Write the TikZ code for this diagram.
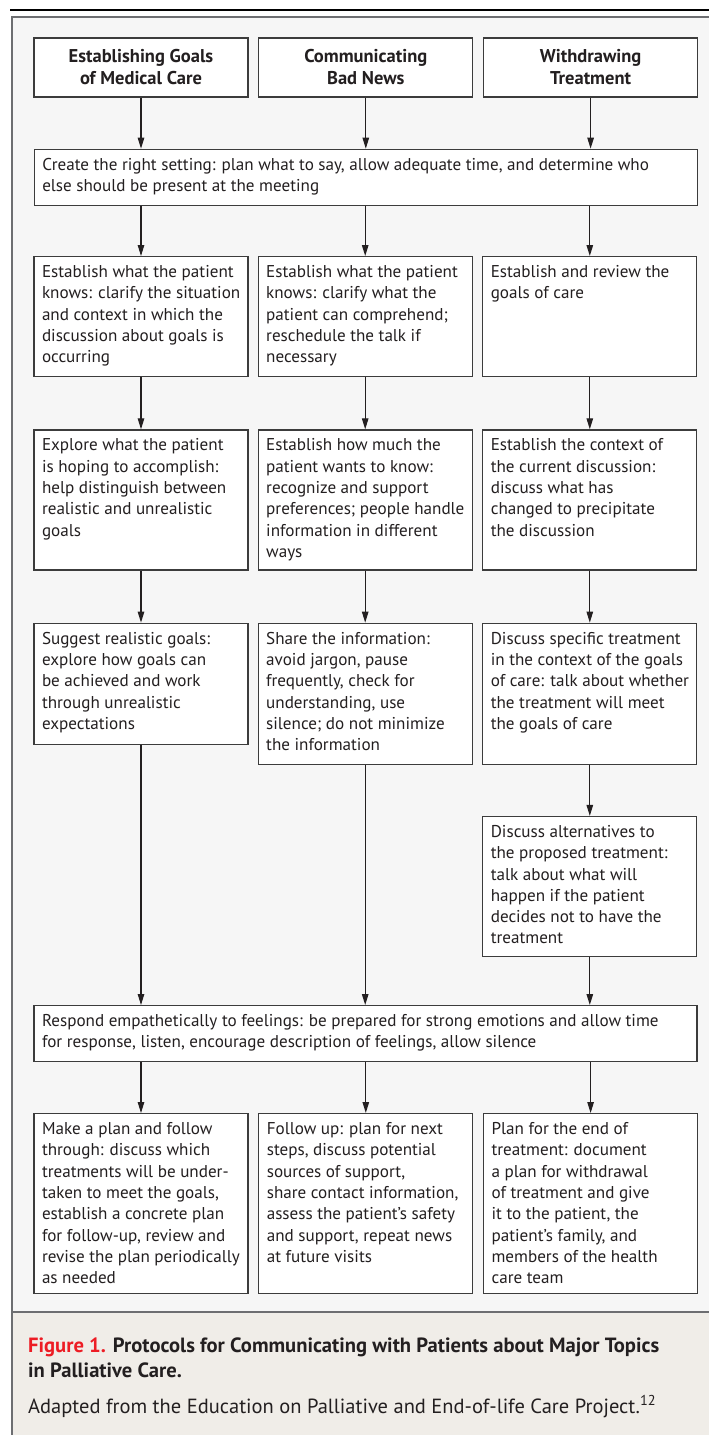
\documentclass[tikz,border=0pt]{standalone}
\usepackage{fontspec}
\setmainfont{PT Sans}
\usepackage{tikz}
\usetikzlibrary{arrows.meta, positioning}
\definecolor{panelGray}{HTML}{F6F6F6}
\definecolor{captionBeige}{HTML}{F0EDE8}
\definecolor{frameGray}{HTML}{6D6E71}
\definecolor{boxLine}{HTML}{3C3C3C}
\definecolor{inkBlack}{HTML}{231F20}
\definecolor{figRed}{HTML}{ED1C24}
\newcommand{\steplines}[3][198pt]{\parbox[c][#2][t]{#1}{\vspace*{6pt}\begin{tabular}[t]{@{}l@{}}#3\end{tabular}}}

\begin{document}
\begin{tikzpicture}[
    x=1pt, y=-1pt,
    headbox/.style={rectangle, draw=boxLine, fill=white, line width=1.3pt, minimum width=214pt,
                    minimum height=59pt, align=center, inner sep=0pt, text=inkBlack,
                    font=\fontsize{18.5}{22}\selectfont\bfseries},
    stepbox/.style={rectangle, draw=boxLine, fill=white, line width=1.3pt, inner xsep=8pt,
                    inner ysep=0pt, text=inkBlack, font=\fontsize{17.1}{21.3}\selectfont},
    caption/.style={align=left, inner sep=0pt, text=inkBlack},
    arrow/.style={-{Triangle[length=11pt, width=6.5pt]}, line width=1.1pt, color=inkBlack}
]
\useasboundingbox (0,0) rectangle (709,1435);

\fill[panelGray] (12,17) rectangle (709,1312);
\fill[captionBeige] (12,1312) rectangle (709,1435);
\draw[frameGray, line width=2.5pt] (709,17) -- (12,17) -- (12,1435);
\draw[frameGray, line width=2.5pt] (12,1312) -- (709,1312);
\draw[black, line width=2pt] (10,10) -- (709,10);

\node[headbox] (goalsHead) at (141,67.5) {Establishing Goals\\of Medical Care};
\node[headbox, right=9.5pt of goalsHead] (newsHead) {Communicating\\Bad News};
\node[headbox, right=9.5pt of newsHead] (withdrawHead) {Withdrawing\\Treatment};

\node[stepbox, below=51pt of newsHead] (setting) {\steplines[647pt]{56pt}{Create the right setting: plan what to say, allow adequate time, and determine who\\else should be present at the meeting}};

\node[stepbox, anchor=north] (knowGoals) at (141,256) {\steplines{120pt}{Establish what the patient\\knows: clarify the situation\\and context in which the\\discussion about goals is\\occurring}};
\node[stepbox, anchor=north] (knowNews) at (365.2,256) {\steplines{120pt}{Establish what the patient\\knows: clarify what the\\patient can comprehend;\\reschedule the talk if\\necessary}};
\node[stepbox, anchor=north] (reviewCare) at (589.8,256) {\steplines{120pt}{Establish and review the\\goals of care}};

\node[stepbox, below=52pt of knowGoals] (hopeGoals) {\steplines{140pt}{Explore what the patient\\is hoping to accomplish:\\help distinguish between\\realistic and unrealistic\\goals}};
\node[stepbox, below=52pt of knowNews] (howMuch) {\steplines{140pt}{Establish how much the\\patient wants to know:\\recognize and support\\preferences; people handle\\information in different\\ways}};
\node[stepbox, below=52pt of reviewCare] (contextNow) {\steplines{140pt}{Establish the context of\\the current discussion:\\discuss what has\\changed to precipitate\\the discussion}};

\node[stepbox, below=52pt of hopeGoals] (realGoals) {\steplines{121pt}{Suggest realistic goals:\\explore how goals can\\be achieved and work\\through unrealistic\\expectations}};
\node[stepbox, below=52pt of howMuch] (shareInfo) {\steplines{141pt}{Share the information:\\avoid jargon, pause\\frequently, check for\\understanding, use\\silence; do not minimize\\the information}};
\node[stepbox, below=52pt of contextNow] (specTreat) {\steplines{141pt}{Discuss specific treatment\\in the context of the goals\\of care: talk about whether\\the treatment will meet\\the goals of care}};
\node[stepbox, below=51pt of specTreat] (altTreat) {\steplines{140pt}{Discuss alternatives to\\the proposed treatment:\\talk about what will\\happen if the patient\\decides not to have the\\treatment}};

\node[stepbox, anchor=north] (respond) at (365.5,1005) {\steplines[647pt]{56pt}{Respond empathetically to feelings: be prepared for strong emotions and allow time\\for response, listen, encourage description of feelings, allow silence}};

\node[stepbox, anchor=north] (planFollow) at (141,1113) {\steplines{180pt}{Make a plan and follow\\through: discuss which\\treatments will be under-\\taken to meet the goals,\\establish a concrete plan\\for follow-up, review and\\revise the plan periodically\\as needed}};
\node[stepbox, right=9.5pt of planFollow] (followUp) {\steplines{180pt}{Follow up: plan for next\\steps, discuss potential\\sources of support,\\share contact information,\\assess the patient’s safety\\and support, repeat news\\at future visits}};
\node[stepbox, right=9.5pt of followUp] (planEnd) {\steplines{180pt}{Plan for the end of\\treatment: document\\a plan for withdrawal\\of treatment and give\\it to the patient, the\\patient’s family, and\\members of the health\\care team}};

\node[caption, anchor=base west, font=\fontsize{20.6}{25}\selectfont\bfseries] (capTitle) at (28,1377) {{\color{figRed}Figure 1.} Protocols for Communicating with Patients about Major Topics\\in Palliative Care.};
\node[caption, anchor=base west, font=\fontsize{20.5}{24}\selectfont] (capSource) at (28,1413) {Adapted from the Education on Palliative and End-of-life Care Project.\textsuperscript{12}};

\draw[arrow] (goalsHead) -- (goalsHead |- setting.north);
\draw[arrow] (newsHead) -- (newsHead |- setting.north);
\draw[arrow] (withdrawHead) -- (withdrawHead |- setting.north);
\draw[arrow] (setting.south -| knowGoals) -- (knowGoals);
\draw[arrow] (setting.south -| knowNews) -- (knowNews);
\draw[arrow] (setting.south -| reviewCare) -- (reviewCare);
\draw[arrow] (knowGoals) -- (hopeGoals);
\draw[arrow] (knowNews) -- (howMuch);
\draw[arrow] (reviewCare) -- (contextNow);
\draw[arrow] (hopeGoals) -- (realGoals);
\draw[arrow] (howMuch) -- (shareInfo);
\draw[arrow] (contextNow) -- (specTreat);
\draw[arrow] (specTreat) -- (altTreat);
\draw[arrow] (realGoals) -- (realGoals |- respond.north);
\draw[arrow] (shareInfo) -- (shareInfo |- respond.north);
\draw[arrow] (altTreat) -- (altTreat |- respond.north);
\draw[arrow] (respond.south -| planFollow) -- (planFollow);
\draw[arrow] (respond.south -| followUp) -- (followUp);
\draw[arrow] (respond.south -| planEnd) -- (planEnd);

\end{tikzpicture}
\end{document}
